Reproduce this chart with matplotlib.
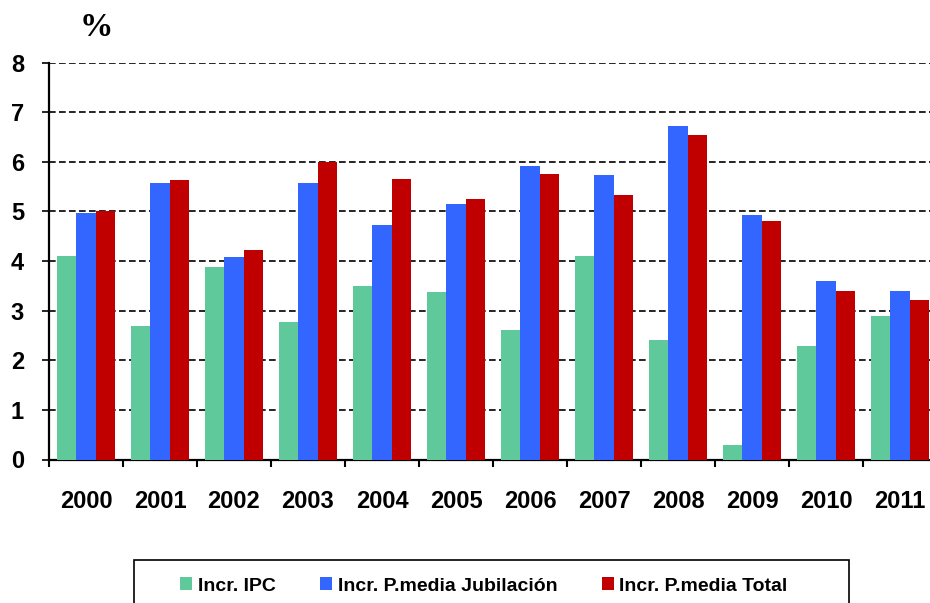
import numpy as np
import matplotlib.pyplot as plt
from matplotlib.patches import Rectangle

years = ['2000', '2001', '2002', '2003', '2004', '2005',
         '2006', '2007', '2008', '2009', '2010', '2011']
ipc = [4.1, 2.7, 3.88, 2.78, 3.5, 3.38, 2.6, 4.1, 2.4, 0.29, 2.28, 2.9]
jubilacion = [4.96, 5.57, 4.08, 5.57, 4.72, 5.14, 5.92, 5.73, 6.72, 4.93, 3.59, 3.4]
total = [5.0, 5.64, 4.23, 5.99, 5.65, 5.25, 5.75, 5.32, 6.53, 4.81, 3.4, 3.21]

labels = ['Incr. IPC', 'Incr. P.media Jubilación', 'Incr. P.media Total']
colors = ['#5FC99C', '#3366FF', '#C00000']
series = [ipc, jubilacion, total]

plt.rcParams['font.family'] = ['Liberation Sans', 'DejaVu Sans']
plt.rcParams['font.weight'] = 'bold'

fig = plt.figure(figsize=(9.3, 6.03), dpi=100)
ax = fig.add_axes([49/930, 143.5/603, 888/930, 397/603])

x = np.arange(len(years))
w = 0.264
bars = []
for i in range(3):
    b = ax.bar(x + (i - 1) * w, series[i], width=w, color=colors[i],
               edgecolor='none', zorder=3, label=labels[i])
    bars.append(b)

ax.set_xlim(-0.5, len(years) - 0.5)
ax.set_ylim(0, 8)
ax.set_yticks(range(0, 9))
ax.yaxis.grid(True, color='black', linestyle=(0, (4, 2)), linewidth=1.2, zorder=1)
ax.set_axisbelow(True)

ax.set_xticks(x)
ax.set_xticklabels(years, fontsize=17, fontweight='bold')
ax.set_xticks(np.arange(len(years) + 1) - 0.5, minor=True)
ax.tick_params(axis='x', which='major', length=0, pad=22)
ax.tick_params(axis='x', which='minor', length=5, width=1.5, direction='out')
ax.tick_params(axis='y', length=5, width=1.2, pad=13, labelsize=17)
for t in ax.get_yticklabels():
    t.set_fontweight('bold')

for s in ['top', 'right']:
    ax.spines[s].set_visible(False)
ax.spines['left'].set_linewidth(1.6)
ax.spines['bottom'].set_linewidth(1.6)

fig.text(96/930, 1 - 28/603, '%', family=['Liberation Serif', 'DejaVu Serif'],
         fontsize=24, fontweight='bold', ha='center', va='center')

# legend frame (runs off the bottom of the picture)
fig.patches.append(Rectangle((134/930, -0.05), (849 - 134)/930, 0.05 + 43/603,
                             transform=fig.transFigure, fill=False,
                             edgecolor='black', linewidth=1.2))
fig.legend(handles=bars, labels=labels, ncol=3, loc='center left',
           bbox_to_anchor=(180/930, 1 - 586/603), frameon=False,
           prop={'weight': 'bold', 'size': 14},
           handlelength=0.6, handleheight=0.6, handletextpad=0.3,
           columnspacing=2.3, borderpad=0, borderaxespad=0)

fig.savefig('out.png', dpi=100)
